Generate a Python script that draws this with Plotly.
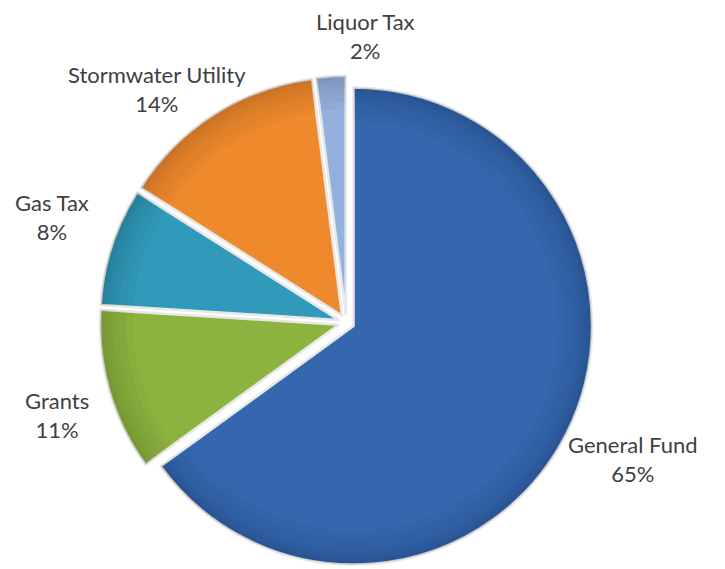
import plotly.graph_objects as go

# Funding sources (share of total, %)
sources = ["General Fund", "Grants", "Gas Tax", "Stormwater Utility", "Liquor Tax"]
shares = [65, 11, 8, 14, 2]

colors = ["#3567AE", "#8CB33E", "#3199B9", "#EE892C", "#94B0DC"]

# Label anchor points in pixels (centre of the two-line label)
W, H = 725, 569
label_xy = {
    "General Fund": (633, 459),
    "Grants": (57, 415),
    "Gas Tax": (52, 217),
    "Stormwater Utility": (157, 89),
    "Liquor Tax": (365, 36),
}

pull = 0.034
half = 246.6  # half-size of the pie domain in px
cx = 346.3
domain = dict(x=[(cx - half) / W, (cx + half) / W], y=[0, 2 * half / H])

fig = go.Figure(
    go.Pie(
        labels=sources,
        values=shares,
        sort=False,
        direction="clockwise",
        rotation=0,
        pull=[pull] * len(shares),
        marker=dict(colors=colors, line=dict(color="#E8E8E8", width=2.5)),
        textinfo="none",
        hoverinfo="label+percent",
        domain=domain,
        showlegend=False,
    )
)

# Stack of faint rim rings: a soft darkening towards the outer edge
for hole in [0.86, 0.89, 0.92, 0.945, 0.965, 0.98]:
    fig.add_trace(
        go.Pie(
            labels=sources,
            values=shares,
            sort=False,
            direction="clockwise",
            rotation=0,
            pull=[pull] * len(shares),
            hole=hole,
            marker=dict(
                colors=["rgba(0,0,0,0.025)"] * len(shares),
                line=dict(width=0),
            ),
            textinfo="none",
            hoverinfo="skip",
            domain=domain,
            showlegend=False,
        )
    )

total = sum(shares)
for name, val in zip(sources, shares):
    x, y = label_xy[name]
    fig.add_annotation(
        x=x / W,
        y=1 - y / H,
        xref="paper",
        yref="paper",
        xanchor="center",
        yanchor="middle",
        text=f"{name}<br>{round(100 * val / total)}%",
        showarrow=False,
        align="center",
        font=dict(family="Lato", size=22, color="#404040"),
    )

fig.update_layout(
    width=W,
    height=H,
    margin=dict(l=0, r=0, t=0, b=0),
    paper_bgcolor="white",
    plot_bgcolor="white",
)

fig.write_html("out.html")
